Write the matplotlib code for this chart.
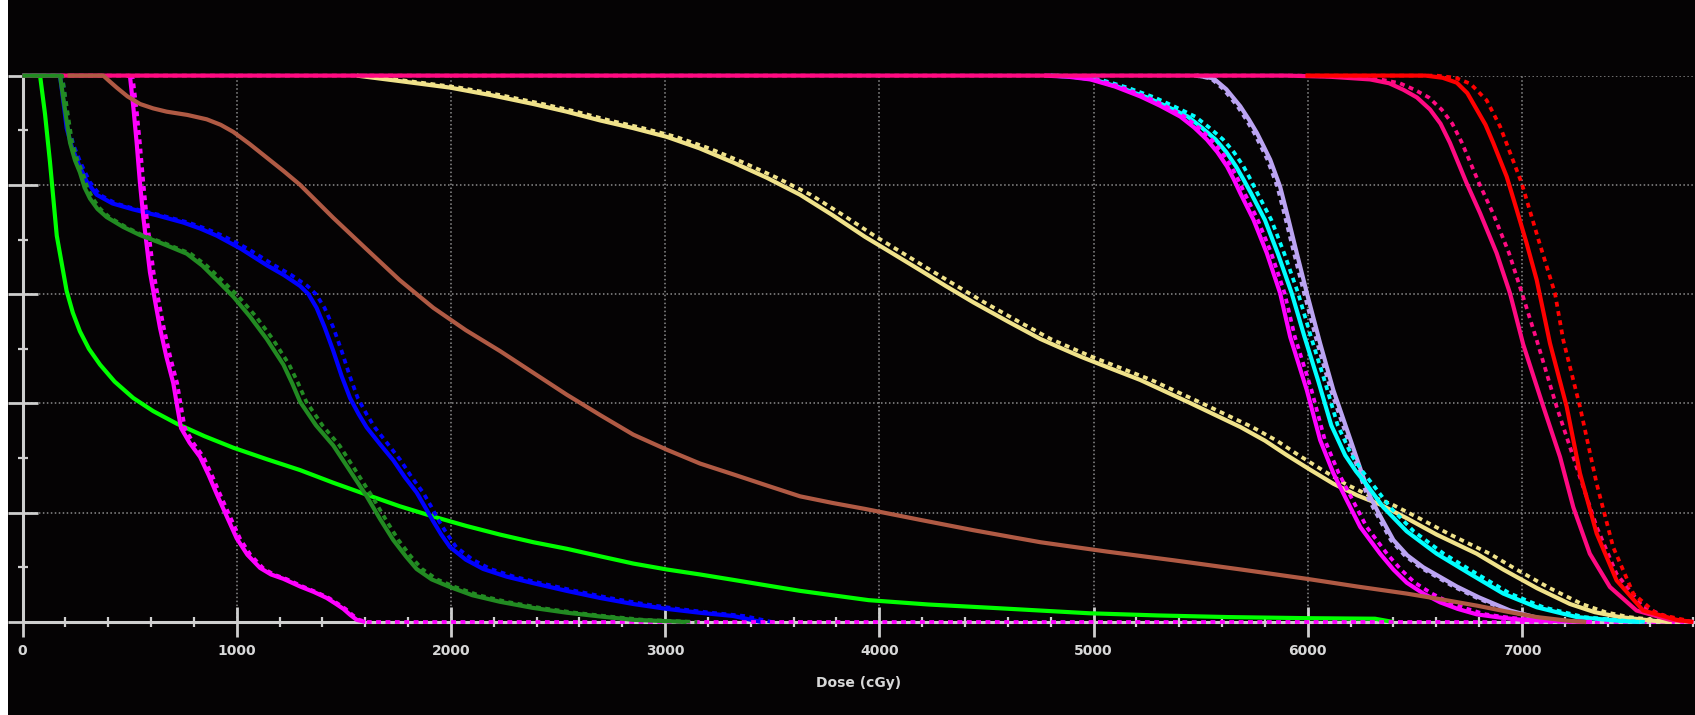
import matplotlib
matplotlib.use("Agg")
import matplotlib.pyplot as plt
from matplotlib.patches import Rectangle
from matplotlib.ticker import MultipleLocator

# ---- DVH curves: dose (cGy) vs volume (%)
lime_dose = [0, 82, 105, 128, 160, 206, 235, 268, 310, 362, 430, 517, 610, 720, 850, 984, 1140,
             1296, 1450, 1607, 1760, 1918, 2070, 2229, 2385, 2541, 2700, 2851, 3010, 3163, 3320,
             3474, 3630, 3950, 4230, 4521, 4979, 5300, 5628, 6000, 6314, 6400]
lime_vol = [100, 100, 93, 84.3, 70.7, 60.6, 56.6, 53.2, 50, 47.1, 44, 41, 38.6, 36.3, 34, 31.9,
            29.8, 27.8, 25.5, 23.3, 21.2, 19.3, 17.6, 16, 14.6, 13.4, 12, 10.7, 9.6, 8.7, 7.7,
            6.7, 5.7, 4.0, 3.2, 2.6, 1.6, 1.2, 0.9, 0.7, 0.6, 0]

green_vol = [100, 100, 96, 92, 87.7, 84.5, 82.3, 79.5, 77.5, 75.6, 74.1, 72.3, 70.8, 69.3, 67.4,
             65.2, 62.6, 59.5, 55.9, 51.8, 47.1, 43.6, 40.3, 36, 32.3, 27.6, 23, 18.8, 15, 12,
             9.7, 7.8, 6.4, 4.9, 3.7, 2.6, 1.7, 1, 0.4, 0]
green_dose = [0, 175, 190, 205, 222, 245, 268, 290, 315, 350, 393, 470, 549, 650, 767, 840, 907,
              985, 1062, 1140, 1218, 1260, 1296, 1370, 1451, 1530, 1607, 1670, 1731, 1790, 1840,
              1910, 1996, 2100, 2229, 2380, 2541, 2700, 2851, 3100]
green_dose_b = [0, 185, 200, 215, 232, 257, 280, 303, 328, 363, 405, 482, 560, 665, 785, 860, 930,
                1010, 1090, 1168, 1245, 1288, 1325, 1400, 1480, 1557, 1632, 1695, 1755, 1813,
                1865, 1935, 2020, 2130, 2260, 2415, 2580, 2740, 2900, 3150]

blue_vol = [100, 100, 95.5, 90.4, 87, 84, 80.6, 78.2, 76.6, 75.5, 74.4, 73.1, 72, 70.7, 68.3,
            65.3, 63.5, 61.5, 60, 57.5, 54, 49.6, 45, 41, 38, 35.6, 32.5, 29.6, 26.5, 23.7, 21,
            18.4, 16, 13.7, 11.4, 9.7, 8.3, 7.1, 5.7, 4.4, 3.3, 2.4, 1.7, 1.1, 0]
blue_dose = [0, 175, 190, 206, 230, 260, 300, 346, 420, 517, 630, 751, 830, 907, 1020, 1140, 1220,
             1296, 1335, 1373, 1410, 1451, 1490, 1529, 1570, 1607, 1670, 1731, 1785, 1840, 1880,
             1918, 1955, 1996, 2070, 2151, 2260, 2385, 2540, 2696, 2850, 3007, 3160, 3318, 3450]
blue_dose_b = [0, 185, 200, 215, 241, 272, 313, 360, 436, 535, 650, 775, 855, 935, 1053, 1175,
               1255, 1330, 1370, 1410, 1450, 1490, 1528, 1565, 1607, 1645, 1707, 1765, 1817, 1870,
               1910, 1945, 1984, 2025, 2102, 2185, 2295, 2420, 2580, 2740, 2900, 3060, 3215, 3370,
               3500]

mag1_dose = [490, 502, 518, 533, 548, 564, 595, 620, 642, 672, 704, 722, 740, 780, 829, 870, 907,
             955, 1000, 1050, 1109, 1160, 1218, 1296, 1360, 1420, 1460, 1498, 1530, 1560, 1600]
mag1_vol = [100, 99.8, 94, 87.7, 80.5, 74.1, 64, 58.5, 53.8, 48.5, 43.7, 39.5, 35.5, 32.8, 30.2,
            26.8, 23.4, 19.2, 15.3, 12.3, 9.9, 8.7, 7.9, 6.5, 5.5, 4.4, 3.4, 2.4, 1.3, 0.4, 0]
mag1_dose_b = [500, 515, 532, 548, 564, 580, 612, 637, 660, 690, 722, 740, 758, 797, 845, 885,
               922, 970, 1015, 1064, 1122, 1172, 1230, 1308, 1370, 1430, 1470, 1508, 1540, 1570,
               1610, 7800]
mag1_vol_b = [100, 99.5, 94, 87.7, 80.5, 74.1, 64, 58.5, 53.8, 48.5, 43.7, 39.5, 35.5, 32.8,
              30.2, 26.8, 23.4, 19.2, 15.3, 12.3, 9.9, 8.7, 7.9, 6.5, 5.5, 4.4, 3.4, 2.4, 1.3,
              0.4, 0, 0]

brown_dose = [210, 377, 405, 440, 490, 549, 610, 673, 770, 860, 925, 984, 1060, 1140, 1220, 1296,
              1450, 1607, 1760, 1918, 2070, 2229, 2385, 2541, 2700, 2851, 3010, 3163, 3320, 3474,
              3630, 3780, 3933, 4190, 4439, 4752, 5060, 5373, 5690, 5996, 6230, 6462, 6630, 6789,
              6930, 7069, 7224, 7300]
brown_vol = [100, 100, 99, 97.8, 96.2, 94.8, 94, 93.4, 92.8, 92, 91, 89.7, 87.5, 85, 82.5, 80,
             74, 68.2, 62.6, 57.5, 53.4, 49.6, 45.6, 41.6, 37.8, 34.3, 31.5, 29, 27, 25, 23,
             21.8, 20.7, 18.7, 16.8, 14.6, 12.9, 11.3, 9.6, 7.9, 6.5, 5.2, 4.1, 3.0, 1.9, 0.9,
             0.2, 0]

khaki_vol = [100, 98.9, 97.8, 96.4, 94.8, 93.4, 91.8, 90.4, 88.8, 86.7, 84.1, 81.3, 78.2, 74.5,
             70.5, 67.5, 64.5, 61.5, 58.5, 55, 51.8, 50.1, 48.5, 46.4, 44.3, 40.1, 35.7, 33.2,
             30.6, 27.9, 25.3, 23.2, 21.5, 19, 16.0, 12.5, 9.6, 6.2, 3.3, 1.8, 0.9, 0.2, 0]
khaki_dose = [1560, 1780, 1996, 2190, 2385, 2540, 2696, 2850, 3007, 3160, 3318, 3475, 3630, 3780,
              3933, 4060, 4186, 4310, 4439, 4600, 4752, 4850, 4944, 5080, 5218, 5450, 5685, 5800,
              5900, 6010, 6120, 6230, 6338, 6462, 6602, 6789, 6913, 7070, 7224, 7340, 7457, 7620,
              7700]
khaki_dose_b = [1600, 1822, 2040, 2235, 2430, 2585, 2740, 2895, 3050, 3205, 3365, 3522, 3680,
                3830, 3985, 4110, 4235, 4362, 4490, 4650, 4800, 4900, 4995, 5133, 5270, 5503,
                5740, 5855, 5955, 6065, 6175, 6285, 6395, 6520, 6665, 6850, 6975, 7130, 7280,
                7390, 7500, 7660, 7740]

mag2_vol = [100, 99.8, 99.3, 98, 96.2, 94.5, 92.5, 90.5, 88.3, 86, 83.4, 81, 78.5, 73.6, 67.5,
            60.2, 52.2, 42.4, 33.3, 27.2, 22.3, 17.4, 12.5, 9.6, 7.2, 5.2, 3.6, 2.4, 1.4, 0.8,
            0.4, 0]
mag2_dose = [4770, 4880, 4985, 5100, 5218, 5310, 5405, 5470, 5529, 5578, 5623, 5655, 5685, 5747,
             5809, 5871, 5918, 5996, 6058, 6120, 6182, 6245, 6338, 6400, 6462, 6540, 6618, 6700,
             6789, 6900, 7000, 7300]
mag2_dose_b = [4790, 4902, 5010, 5122, 5240, 5332, 5425, 5490, 5550, 5599, 5643, 5675, 5705,
               5767, 5830, 5892, 5940, 6018, 6080, 6145, 6210, 6275, 6370, 6435, 6500, 6580,
               6660, 6745, 6830, 6940, 7050, 7350]

cyan_vol = [100, 99.8, 99.3, 97.8, 96, 94.3, 92.5, 90.5, 88.3, 86, 83.4, 81, 78.5, 73.6, 67.5,
            60.2, 52.2, 44, 36, 30.5, 27.6, 25.1, 21, 16.6, 12.5, 8.8, 5.2, 2.7, 0.9, 0.2, 0]
cyan_dose = [4800, 4900, 5000, 5125, 5250, 5345, 5440, 5505, 5570, 5620, 5665, 5700, 5735, 5800,
             5860, 5925, 5985, 6050, 6110, 6175, 6225, 6276, 6353, 6462, 6602, 6758, 6913, 7069,
             7256, 7460, 7550]
cyan_dose_b = [4830, 4930, 5030, 5158, 5285, 5380, 5475, 5540, 5605, 5655, 5700, 5733, 5765,
               5830, 5890, 5955, 6015, 6080, 6140, 6205, 6255, 6305, 6385, 6495, 6635, 6790,
               6945, 7100, 7290, 7490, 7580]

lav_vol = [100, 99.5, 97.5, 94.4, 92, 89.5, 87, 84.6, 79.7, 74.8, 67.5, 60.2, 51, 42.4, 33.3,
           27.8, 23, 20, 15, 12.2, 10, 6.5, 4.5, 2.1, 0.8, 0]
lav_dose = [5480, 5560, 5620, 5685, 5725, 5763, 5795, 5825, 5871, 5903, 5949, 5996, 6058, 6120,
            6200, 6248, 6291, 6330, 6400, 6465, 6540, 6696, 6800, 6945, 7069, 7200]
lav_dose_b = [5470, 5548, 5607, 5672, 5712, 5750, 5782, 5812, 5858, 5890, 5936, 5983, 6045,
              6108, 6188, 6236, 6278, 6318, 6388, 6452, 6525, 6680, 6785, 6930, 7055, 7190]

pink_dose = [0, 5900, 6100, 6291, 6380, 6447, 6510, 6571, 6620, 6664, 6742, 6805, 6882, 6944,
             7006, 7100, 7178, 7240, 7317, 7411, 7535, 7690, 7800]
pink_vol = [100, 100, 99.8, 99.3, 98.6, 97.4, 96, 93.8, 91.2, 87.7, 80.3, 74.8, 67.5, 60.2, 50.8,
            39.4, 30.2, 21, 12.5, 6.4, 2.1, 0.4, 0]
pink_dose_b = [0, 5950, 6150, 6340, 6430, 6500, 6565, 6625, 6675, 6720, 6800, 6865, 6940, 7000,
               7069, 7162, 7255, 7349, 7442, 7566, 7720, 7800]
pink_vol_b = [100, 100, 99.8, 99.3, 98.6, 97.4, 96, 93.8, 91.2, 87.7, 80.3, 74.8, 67.5, 60.2,
              51.6, 39.4, 28.4, 17.4, 8.8, 2.7, 0.3, 0]

red_dose = [5990, 6550, 6630, 6696, 6745, 6789, 6830, 6866, 6929, 6976, 7022, 7069, 7131, 7209,
            7271, 7349, 7442, 7566, 7722, 7800]
red_vol = [100, 100, 99.6, 98.7, 96.8, 93.8, 91, 87.7, 81.5, 75.4, 69.3, 62.6, 51, 39.4, 27.2,
           16.2, 7.6, 2.1, 0.4, 0]
red_dose_b = [5990, 6600, 6690, 6760, 6835, 6898, 6999, 7077, 7154, 7193, 7271, 7349, 7426, 7520,
              7628, 7780]
red_vol_b = [100, 100, 99.6, 98.5, 95.5, 90.7, 80.3, 70, 60.2, 51.6, 39.4, 25.3, 13.7, 5.2, 1.5,
             0.2]

x_ticks = [0, 1000, 2000, 3000, 4000, 5000, 6000, 7000]

BG = "#050304"
AX = "#cfcfcf"
TXT = "#d8d8d8"
plt.rcParams['font.family'] = ['DejaVu Sans']
plt.rcParams['font.weight'] = 'bold'

fig = plt.figure(figsize=(16.95, 7.15), dpi=100, facecolor=BG)
ax = fig.add_axes([22.5 / 1695, 93 / 715, 1 - 22.5 / 1695, 546.4 / 715])
ax.set_facecolor(BG)

solid = dict(lw=3.0, solid_capstyle="butt", solid_joinstyle="round", zorder=3, clip_on=False)
dash = dict(lw=2.7, ls=(0, (1.3, 1.2)), zorder=3, clip_on=False)

# draw order matters for the 100 % plateau
ax.plot(lime_dose, lime_vol, color="#00ff00", **solid)
ax.plot(blue_dose, blue_vol, color="#0000ff", **solid)
ax.plot(blue_dose_b, blue_vol, color="#0000ff", **dash)
ax.plot(mag1_dose, mag1_vol, color="#ff00ff", **solid)
ax.plot(mag1_dose_b, mag1_vol_b, color="#ff00ff", **dash)
ax.plot(khaki_dose, khaki_vol, color="#f0e28a", **solid)
ax.plot(khaki_dose_b, khaki_vol, color="#f0e28a", **dash)
ax.plot(lav_dose, lav_vol, color="#bba4f2", **solid)
ax.plot(lav_dose_b, lav_vol, color="#bba4f2", **dash)
ax.plot(cyan_dose, cyan_vol, color="#00ffff", **solid)
ax.plot(cyan_dose_b, cyan_vol, color="#00ffff", **dash)
ax.plot(mag2_dose, mag2_vol, color="#ff00ff", **solid)
ax.plot(mag2_dose_b, mag2_vol, color="#ff00ff", **dash)
ax.plot(pink_dose, pink_vol, color="#ff0a82", **solid)
ax.plot(pink_dose_b, pink_vol_b, color="#ff0a82", **dash)
ax.plot(red_dose, red_vol, color="#ff0000", **solid)
ax.plot(red_dose_b, red_vol_b, color="#ff0000", **dash)
ax.plot(green_dose, green_vol, color="#228b22", **solid)
ax.plot(green_dose_b, green_vol, color="#228b22", **dash)
ax.plot(brown_dose, brown_vol, color="#b05a44", **solid)

ax.set_xlim(0, 7808)
ax.set_ylim(0, 100)
ax.set_xticks(x_ticks)
ax.set_xticklabels([str(t) for t in x_ticks])
ax.xaxis.set_minor_locator(MultipleLocator(200))
ax.yaxis.set_major_locator(MultipleLocator(20))
ax.yaxis.set_minor_locator(MultipleLocator(10))

for side in ("top", "right"):
    ax.spines[side].set_visible(False)
for side in ("left", "bottom"):
    ax.spines[side].set_color(AX)
    ax.spines[side].set_linewidth(2.2)

ax.tick_params(which="major", direction="inout", length=21.6, width=2, color=AX,
               labelcolor=TXT, labelsize=10, pad=5)
ax.tick_params(which="minor", direction="inout", length=6.5, width=1.6, color=AX)
ax.tick_params(axis="y", labelleft=False)

ax.grid(which="major", color="#8c8c8c", ls=(0, (1, 1.6)), lw=1.1, zorder=1)
ax.set_xlabel("Dose (cGy)", color=TXT, fontsize=10, fontweight="bold", labelpad=13)

fig.patches.append(Rectangle((0, 0), 8 / 1695, 1, transform=fig.transFigure,
                             facecolor="white", edgecolor="none", zorder=10))

fig.savefig("out.png", dpi=100, facecolor=BG)
